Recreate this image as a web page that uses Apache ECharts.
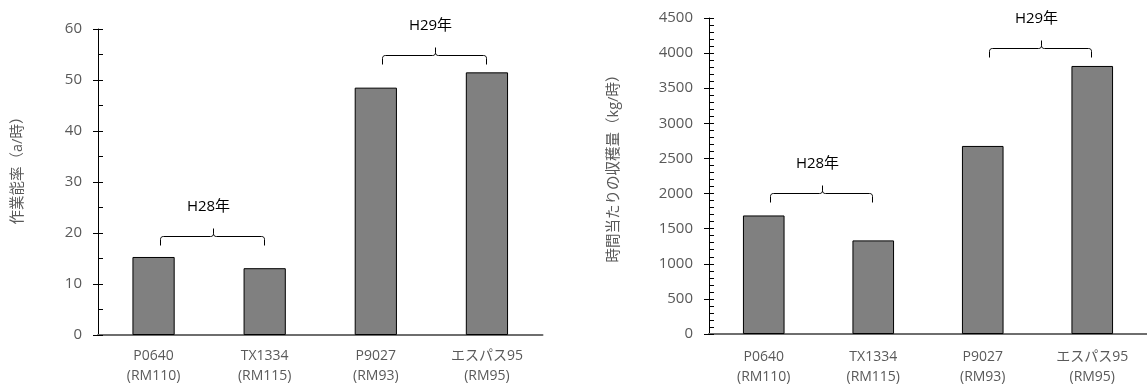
<!DOCTYPE html>
<html><head><meta charset="utf-8">
<script src="https://cdn.jsdelivr.net/npm/echarts@6/dist/echarts.min.js"></script>
<style>html,body{margin:0;padding:0;background:#fff}#c{width:1147px;height:387px}</style>
</head><body><div id="c"></div>
<script>
const categories = ['P0640\n(RM110)', 'TX1334\n(RM115)', 'P9027\n(RM93)', 'エスパス95\n(RM95)'];
const efficiency = [15.3, 13.1, 48.5, 51.5];        // 作業能率（a/時）
const harvestPerHour = [1688, 1333, 2678, 3817];   // 時間当たりの収穫量（kg/時）
const leftTicks = { min: 0, max: 60, interval: 10 };
const rightTicks = { min: 0, max: 4500, interval: 500 };
const leftGroups = [ { label: 'H28年', from: 0, to: 1, level: 19.4 }, { label: 'H29年', from: 2, to: 3, level: 55.0 } ];
const rightGroups = [ { label: 'H28年', from: 0, to: 1, level: 2005 }, { label: 'H29年', from: 2, to: 3, level: 4066 } ];

const FONT = '"Open Sans", "Noto Sans CJK JP", sans-serif';
const GRAY = '#595959';
const chart = echarts.init(document.getElementById('c'), null, { renderer: 'canvas' });

function xAxisOf(gi, margin) {
  return {
    type: 'category', gridIndex: gi, data: categories,
    axisLine: { lineStyle: { color: '#6e6e6e', width: 2 } },
    axisTick: { show: false },
    axisLabel: { color: GRAY, fontFamily: FONT, fontSize: 14, lineHeight: 20, margin: margin, interval: 0 }
  };
}
function yAxesOf(gi, t, name, minorSplit, nameGap, namePad) {
  return [{
    type: 'value', gridIndex: gi, position: 'left', min: t.min, max: t.max, interval: t.interval,
    name: name, nameLocation: 'middle', nameGap: nameGap,
    nameTextStyle: { color: GRAY, fontFamily: FONT, fontSize: 14.5, padding: [0, 0, 0, namePad] },
    axisLine: { show: true, lineStyle: { color: '#000', width: 1 } },
    axisTick: { show: true, inside: false, length: 5, lineStyle: { color: '#000', width: 1 } },
    axisLabel: { color: GRAY, fontFamily: FONT, fontSize: 15, margin: 16, formatter: v => String(v) },
    splitLine: { show: false }
  }, {
    type: 'value', gridIndex: gi, position: 'left', offset: 0, min: t.min, max: t.max, interval: t.interval,
    axisLine: { show: false },
    axisTick: { show: true, inside: true, length: 5, lineStyle: { color: '#000', width: 1 } },
    minorTick: { show: true, splitNumber: minorSplit, length: 5, lineStyle: { color: '#000', width: 1 } },
    axisLabel: { show: false },
    splitLine: { show: false }
  }];
}
const ya = yAxesOf(0, leftTicks, '作業能率（a/時）', 2, 73, 30);
const yb = yAxesOf(1, rightTicks, '時間当たりの収穫量（kg/時）', 5, 88, 22);

chart.setOption({
  animation: false,
  grid: [
    { left: 98, top: 29, width: 444.5, height: 306 },
    { left: 709, top: 18, width: 448, height: 321 }
  ],
  xAxis: [xAxisOf(0, 11), xAxisOf(1, 13)],
  yAxis: [ya[0], ya[1], yb[0], yb[1]],
  series: [
    { type: 'bar', xAxisIndex: 0, yAxisIndex: 0, data: efficiency, barWidth: '38%',
      itemStyle: { color: '#808080', borderColor: '#000', borderWidth: 1 } },
    { type: 'bar', xAxisIndex: 1, yAxisIndex: 2, data: harvestPerHour, barWidth: '38%',
      itemStyle: { color: '#808080', borderColor: '#000', borderWidth: 1 } }
  ]
});

function quad(p0, c, p1, n) {
  const pts = [];
  for (let i = 0; i <= n; i++) {
    const t = i / n, u = 1 - t;
    pts.push([u * u * p0[0] + 2 * u * t * c[0] + t * t * p1[0], u * u * p0[1] + 2 * u * t * c[1] + t * t * p1[1]]);
  }
  return pts;
}
function bracketEls(groups, xi, yi) {
  const els = [];
  groups.forEach(g => {
    const p1 = chart.convertToPixel({ xAxisIndex: xi, yAxisIndex: yi }, [g.from, g.level]);
    const p2 = chart.convertToPixel({ xAxisIndex: xi, yAxisIndex: yi }, [g.to, g.level]);
    const x1 = Math.round(p1[0] + 6) + 0.5, x2 = Math.round(p2[0] - 1) + 0.5, y = Math.round(p1[1]) + 0.5;
    const xm = Math.round((x1 + x2) / 2) + 0.5;
    const r = 3;
    let left = [[x1, y + 9]].concat(quad([x1, y + r], [x1, y], [x1 + r, y], 4))
      .concat(quad([xm - r, y], [xm, y], [xm, y - r], 4)).concat([[xm, y - 8]]);
    let right = [[xm, y - r]].concat(quad([xm, y - r], [xm, y], [xm + r, y], 4))
      .concat(quad([x2 - r, y], [x2, y], [x2, y + r], 4)).concat([[x2, y + 9]]);
    els.push({ type: 'polyline', shape: { points: left }, style: { fill: null, stroke: '#000', lineWidth: 1 } });
    els.push({ type: 'polyline', shape: { points: right }, style: { fill: null, stroke: '#000', lineWidth: 1 } });
    els.push({ type: 'text', x: xm - 5, y: y - 30,
      style: { text: g.label, fill: '#000', fontFamily: FONT, fontSize: 15, align: 'center', verticalAlign: 'middle' } });
  });
  return els;
}
chart.setOption({ graphic: bracketEls(leftGroups, 0, 0).concat(bracketEls(rightGroups, 1, 2)) });
</script></body></html>
